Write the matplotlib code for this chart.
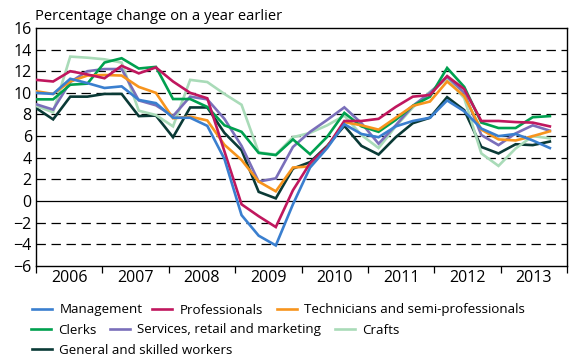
import matplotlib
matplotlib.use("Agg")
import matplotlib.pyplot as plt
import numpy as np

plt.rcParams['font.family'] = ['Open Sans', 'DejaVu Sans']

# quarterly data, 2006 Q1 .. 2013 Q3
management = [10.0, 9.9, 11.3, 10.9, 10.45, 10.6, 9.35, 9.05, 7.7, 7.7, 6.95, 3.9, -1.3, -3.2, -4.1, -0.3,
              3.1, 4.9, 7.1, 6.2, 5.9, 6.9, 7.4, 7.7, 9.3, 8.3, 6.7, 6.0, 6.2, 5.6, 4.9]
professionals = [11.2, 11.05, 12.0, 11.7, 11.35, 12.5, 11.8, 12.35, 11.05, 10.0, 9.5, 4.6, -0.3, -1.4, -2.4, 1.0,
                 3.5, 5.0, 7.4, 7.4, 7.6, 8.7, 9.65, 9.8, 11.55, 10.35, 7.4, 7.4, 7.3, 7.25, 6.9]
technicians = [10.15, 9.9, 11.05, 11.6, 11.65, 11.6, 10.55, 10.0, 7.65, 7.8, 7.45, 5.2, 3.8, 1.8, 0.9, 3.1,
               3.2, 5.0, 7.3, 7.0, 6.6, 7.7, 8.8, 9.2, 11.05, 9.7, 6.6, 5.7, 5.6, 6.0, 6.45]
clerks = [9.4, 9.4, 10.75, 10.85, 12.8, 13.2, 12.25, 12.4, 9.43, 9.43, 8.7, 7.0, 6.4, 4.45, 4.25, 5.7,
          4.33, 5.94, 8.15, 6.9, 6.4, 7.5, 8.8, 9.64, 12.3, 10.55, 7.25, 6.75, 6.75, 7.75, 7.85]
services = [8.95, 8.45, 11.0, 12.0, 12.2, 12.2, 9.3, 8.85, 7.85, 9.65, 9.4, 7.6, 5.1, 1.8, 2.1, 5.0,
            6.4, 7.5, 8.66, 7.2, 5.3, 7.0, 8.8, 10.0, 11.5, 10.0, 6.1, 5.17, 6.25, 7.0, 6.5]
crafts = [8.8, 8.2, 13.35, 13.25, 13.1, 12.8, 8.35, 7.95, 6.9, 11.2, 11.0, 9.9, 8.9, 4.5, 4.3, 5.9,
          6.3, 7.0, 7.9, 6.1, 4.9, 6.9, 8.65, 10.1, 11.3, 9.5, 4.4, 3.25, 4.86, 6.0, 5.8]
general = [8.6, 7.55, 9.65, 9.65, 9.9, 9.9, 7.85, 7.9, 5.9, 8.65, 8.65, 6.3, 4.7, 0.85, 0.25, 3.0,
           3.6, 5.1, 6.95, 5.1, 4.3, 5.9, 7.2, 7.7, 9.6, 8.4, 5.0, 4.4, 5.25, 5.17, 5.5]

years = ['2006', '2007', '2008', '2009', '2010', '2011', '2012', '2013']
y_ticks = list(range(-6, 17, 2))

series = [
    ('Management', management, '#3a7fcf'),
    ('Professionals', professionals, '#c0175e'),
    ('Technicians and semi-professionals', technicians, '#f7941d'),
    ('Clerks', clerks, '#00a04f'),
    ('Services, retail and marketing', services, '#7a6fba'),
    ('Crafts', crafts, '#a9dbb8'),
    ('General and skilled workers', general, '#0a3a36'),
]

fig = plt.figure(figsize=(5.75, 3.58), dpi=100)
ax = fig.add_axes([0.0626, 0.257, 0.9235, 0.665])

x = np.arange(len(management))
handles = {}
for z, (name, vals, col) in enumerate(reversed(series)):
    h, = ax.plot(x, vals, color=col, linewidth=1.9, zorder=3 + z, solid_joinstyle='miter')
    handles[name] = h

for yv in y_ticks[1:-1]:
    if yv == 0:
        ax.axhline(0, color='black', linewidth=0.9, zorder=2)
    else:
        ax.axhline(yv, color='black', linewidth=0.9, linestyle=(0, (7.5, 4.5)), zorder=2)

ax.set_xlim(0, 31)
ax.set_ylim(-6, 16)
n = len(years)
ax.set_xticks([k * 31 / n for k in range(n + 1)])
ax.set_xticklabels([])
ax.set_xticks([(k + 0.5) * 31 / n for k in range(n)], minor=True)
ax.set_xticklabels(years, minor=True)
ax.tick_params(axis='x', which='major', direction='out', length=5, width=0.9)
ax.tick_params(axis='x', which='minor', length=0, pad=3, labelsize=11.5)
ax.set_yticks(y_ticks)
ax.tick_params(axis='y', length=0, pad=3, labelsize=11.5)
for s in ax.spines.values():
    s.set_linewidth(1.0)

fig.text(0.061, 0.945, 'Percentage change on a year earlier', fontsize=10.6, va='baseline')

# legend entries laid out in three rows, each entry placed by its handle start
legend_pos = [
    ('Management', 32, 310), ('Professionals', 152, 310), ('Technicians and semi-professionals', 277, 310),
    ('Clerks', 31, 330), ('Services, retail and marketing', 110, 330), ('Crafts', 335, 330),
    ('General and skilled workers', 32, 350),
]
W, H = 575.0, 358.0
for name, px, py in legend_pos:
    fig.legend([handles[name]], [name], loc='center left',
               bbox_to_anchor=(px / W, 1 - py / H), frameon=False,
               fontsize=9.6, handlelength=1.5, handletextpad=0.55,
               borderpad=0, borderaxespad=0)

fig.savefig('out.png', dpi=100)
